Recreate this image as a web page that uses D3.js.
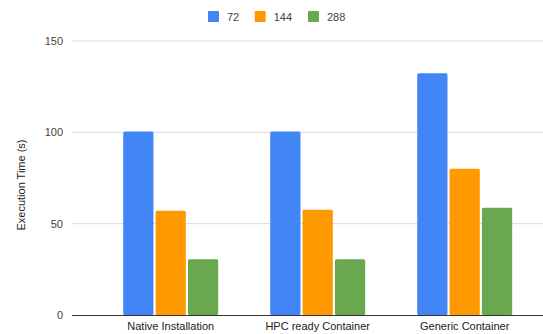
<!DOCTYPE html>
<html>
<head>
<meta charset="utf-8">
<script src="https://cdn.jsdelivr.net/npm/d3@7"></script>
<style>
  html, body { margin: 0; padding: 0; background: #fff; }
  svg { display: block; font-family: "Liberation Sans", Arial, sans-serif; }
</style>
</head>
<body>
<svg id="chart" width="543" height="334"></svg>
<script>
// Execution times per deployment for each process count
const categories = ["Native Installation", "HPC ready Container", "Generic Container"];
const seriesNames = ["72", "144", "288"];
const values72 = [100.4, 100.4, 132.3];
const values144 = [57.1, 57.6, 80.1];
const values288 = [30.5, 30.5, 58.7];
const yTicks = [0, 50, 100, 150];
const colors = ["#4285F4", "#FF9900", "#6AA84F"];

const series = [values72, values144, values288];

const svg = d3.select("#chart");

const y = d3.scaleLinear().domain([0, 150]).range([315, 41]);
const x0 = d3.scaleBand().domain(categories).range([97.2, 538.2])
  .paddingInner(0.354).paddingOuter(0.177);
const x1 = d3.scaleBand().domain(seriesNames).range([0, x0.bandwidth()]).paddingInner(0.065);

const gridLeft = 72, gridRight = 543;

// horizontal gridlines
svg.append("g").selectAll("line").data(yTicks.filter(t => t !== 0)).join("line")
  .attr("x1", gridLeft).attr("x2", gridRight)
  .attr("y1", d => y(d)).attr("y2", d => y(d))
  .attr("stroke", "#d9d9d9").attr("stroke-width", 1);

// y tick labels
const yAxis = d3.axisLeft(y).tickValues(yTicks).tickSize(0).tickPadding(0);
const gy = svg.append("g").attr("transform", "translate(63,0)").call(yAxis);
gy.select(".domain").remove();
gy.selectAll("text").attr("font-size", 11).attr("fill", "#444")
  .attr("font-family", "Liberation Sans, Arial, sans-serif");

// bars
const groups = svg.append("g").selectAll("g").data(categories).join("g")
  .attr("transform", d => `translate(${x0(d)},0)`);
groups.selectAll("rect")
  .data((c, i) => seriesNames.map((s, j) => ({ s, v: series[j][i], c: colors[j] })))
  .join("rect")
  .attr("x", d => x1(d.s))
  .attr("width", x1.bandwidth())
  .attr("y", d => y(d.v))
  .attr("height", d => y(0) - y(d.v))
  .attr("rx", 1.5)
  .attr("fill", d => d.c);

// baseline
svg.append("line")
  .attr("x1", gridLeft).attr("x2", gridRight)
  .attr("y1", y(0) + 0.5).attr("y2", y(0) + 0.5)
  .attr("stroke", "#333").attr("stroke-width", 1);

// x axis labels
const xAxis = d3.axisBottom(x0).tickSize(0).tickPadding(6);
const gx = svg.append("g").attr("transform", `translate(0,${y(0) + 1})`).call(xAxis);
gx.select(".domain").remove();
gx.selectAll("text").attr("font-size", 11).attr("fill", "#222")
  .attr("font-family", "Liberation Sans, Arial, sans-serif");

// y axis title
svg.append("text")
  .attr("transform", "translate(25,185) rotate(-90)")
  .attr("text-anchor", "middle")
  .attr("font-size", 11).attr("fill", "#222")
  .text("Execution Time (s)");

// legend
const legendX = [208, 254.7, 308];
const legend = svg.append("g").selectAll("g").data(seriesNames).join("g")
  .attr("transform", (d, i) => `translate(${legendX[i]},11)`);
legend.append("rect").attr("width", 11).attr("height", 11).attr("rx", 1)
  .attr("fill", (d, i) => colors[i]);
legend.append("text").attr("x", 19).attr("y", 9.5)
  .attr("font-size", 11).attr("fill", "#444")
  .text(d => d);
</script>
</body>
</html>
